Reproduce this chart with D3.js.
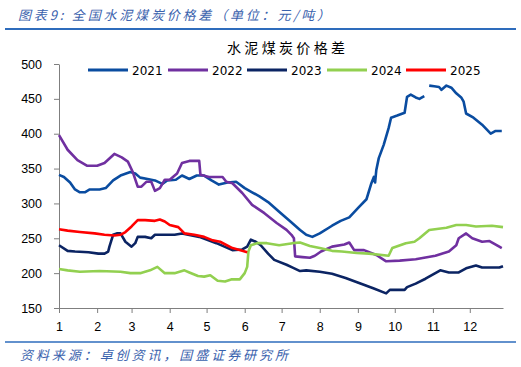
<!DOCTYPE html>
<html>

<head>
  <meta charset="utf-8">
  <title>全国水泥煤炭价格差</title>
  <script src="https://d3js.org/d3.v7.min.js"></script>
  <style>
    body { margin: 0; background: #fff; }
    svg { display: block; font-family: "DejaVu Sans", Verdana, sans-serif; }
    .axis path, .axis line { stroke: #7f7f7f; }
    .axis text { fill: #000; font-size: 12.5px; }
  </style>
</head>

<body>
  <svg id="chart" width="521" height="367"></svg>

  <script>
    // month starts as day of year, labelled 1..12
    const monthDays = [0, 31, 59, 90, 120, 151, 181, 212, 243, 273, 304, 334];
    const monthLabels = ["1", "2", "3", "4", "5", "6", "7", "8", "9", "10", "11", "12"];
    const yTicks = [150, 200, 250, 300, 350, 400, 450, 500];

    const seriesNames = ["2021", "2022", "2023", "2024", "2025"];
    const seriesColors = ["#0a4ca0", "#7030a0", "#0b2463", "#92d050", "#ff0000"];

    // [day of year, 元/吨]; null = gap in the line
    const data2021 = [[0, 341], [4, 338], [9, 330], [13, 320], [17, 316], [21, 316], [25, 320], [33, 320], [38, 322],
      [44, 333], [50, 340], [58, 345], [62, 343], [66, 337], [72, 335], [78, 333], [84, 328], [88, 333], [95, 334],
      [100, 340], [106, 335], [112, 340], [118, 340], [124, 333], [130, 327], [137, 330], [144, 331], [151, 322],
      [157, 316], [163, 310], [170, 302], [179, 288], [187, 276], [196, 262], [201, 255], [206, 252], [212, 257],
      [222, 268], [229, 275], [236, 280], [244, 295], [250, 306], [254, 329], [256, 338], [257, 330], [258, 348],
      [260, 365], [264, 384], [268, 408], [270, 423], [275, 426], [281, 430], [283, 453], [286, 456], [290, 452],
      [293, 450], [297, 454], [299, null], [301, 469], [305, 468], [309, 467], [311, 463], [315, 469], [319, 466],
      [323, 458], [327, 452], [329, 446], [331, 429], [337, 423], [344, 413], [351, 400], [355, 404], [360, 404]];

    const data2022 = [[0, 398], [7, 377], [15, 362], [23, 354], [31, 354], [37, 358], [45, 371], [51, 366], [56, 360],
      [60, 345], [64, 324], [67, 324], [71, 331], [75, 331], [78, 318], [82, 322], [86, 334], [90, 334], [96, 343],
      [100, 358], [106, 361], [114, 361], [115, 341], [122, 338], [128, 338], [133, 338], [136, 331], [141, 329],
      [149, 315], [157, 298], [167, 286], [177, 272], [185, 262], [189, 255], [191, 250], [192, 224], [198, 223],
      [204, 222], [208, 225], [213, 231], [222, 238], [232, 241], [236, 244], [240, 233], [248, 233], [258, 226],
      [266, 217], [277, 218], [290, 220], [306, 225], [317, 231], [323, 240], [325, 250], [331, 257], [336, 250],
      [344, 245], [350, 246], [358, 238], [360, 236]];

    const data2023 = [[0, 240], [7, 232], [13, 231], [24, 230], [32, 228], [37, 228], [40, 231], [41, 238], [44, 255],
      [47, 257], [50, 257], [54, 245], [59, 238], [62, 243], [64, 252], [70, 252], [75, 250], [78, 255], [86, 255],
      [94, 255], [100, 257], [114, 252], [128, 243], [141, 233], [149, 234], [153, 238], [156, 248], [160, 245],
      [164, 240], [170, 228], [175, 219], [185, 212], [190, 208], [196, 203], [201, 204], [212, 202], [222, 199],
      [233, 193], [244, 186], [256, 178], [266, 171], [269, 176], [281, 176], [283, 180], [290, 185], [298, 192],
      [306, 200], [310, 204], [317, 201], [325, 201], [331, 207], [339, 211], [344, 208], [358, 208], [361, 210]];

    const data2024 = [[0, 206], [7, 204], [17, 202], [33, 203], [50, 202], [58, 200], [66, 200], [74, 204], [80, 209],
      [86, 200], [94, 200], [102, 204], [106, 201], [113, 196], [118, 195], [123, 197], [129, 189], [135, 188],
      [140, 191], [147, 191], [151, 200], [153, 209], [154, 231], [156, 240], [161, 243], [169, 243], [179, 240],
      [190, 243], [196, 244], [204, 239], [212, 236], [222, 232], [230, 231], [242, 229], [252, 228], [268, 225],
      [271, 236], [282, 243], [289, 245], [293, 250], [301, 262], [315, 265], [323, 269], [331, 269], [339, 267],
      [352, 268], [361, 266]];

    const data2025 = [[0, 263], [7, 261], [17, 259], [29, 257], [37, 255], [45, 254], [50, 255], [54, 259], [59, 267],
      [64, 276], [70, 276], [78, 275], [82, 277], [86, 274], [90, 269], [97, 266], [102, 257], [110, 255], [118, 252],
      [125, 247], [131, 245], [141, 236], [149, 232], [153, 230]];

    const allSeries = [data2021, data2022, data2023, data2024, data2025];

    const svg = d3.select("svg#chart");
    const margins = { top: 64, left: 59, right: 17, bottom: 59 };
    const width = +svg.attr("width");
    const height = +svg.attr("height");

    const xScale = d3.scaleLinear()
      .domain([0, 361])
      .range([margins.left, width - margins.right - 1]);
    const yScale = d3.scaleLinear()
      .domain([150, 500])
      .range([height - margins.bottom, margins.top]);

    // header + rules
    svg.append("text")
      .attr("x", 18)
      .attr("y", 20)
      .attr("textLength", 312)
      .style("font-family", "'Noto Sans CJK SC', sans-serif")
      .style("font-style", "italic")
      .style("font-size", "13px")
      .style("fill", "#3a62ad")
      .text("图表9:  全国水泥煤炭价格差（单位：元/吨）");

    svg.append("line")
      .attr("x1", 5).attr("x2", 516)
      .attr("y1", 29).attr("y2", 29)
      .attr("stroke", "#2e6cbc")
      .attr("stroke-width", 2);

    svg.append("line")
      .attr("x1", 5).attr("x2", 516)
      .attr("y1", 342).attr("y2", 342)
      .attr("stroke", "#2e6cbc")
      .attr("stroke-width", 1.5);

    svg.append("text")
      .attr("x", 20)
      .attr("y", 360)
      .attr("textLength", 268)
      .style("font-family", "'Noto Sans CJK SC', sans-serif")
      .style("font-style", "italic")
      .style("font-size", "13px")
      .style("fill", "#3a62ad")
      .text("资料来源：卓创资讯，国盛证券研究所");

    // chart title
    svg.append("text")
      .attr("x", 286)
      .attr("y", 53)
      .attr("text-anchor", "middle")
      .attr("textLength", 118)
      .style("font-family", "'Noto Sans CJK SC', sans-serif")
      .style("font-size", "14px")
      .style("fill", "#000")
      .text("水泥煤炭价格差");

    // axes
    const leftAxis = d3.axisLeft(yScale)
      .tickValues(yTicks)
      .tickSize(5)
      .tickPadding(12)
      .tickSizeOuter(0);
    svg.append("g")
      .attr("class", "axis")
      .attr("transform", `translate(${margins.left},0)`)
      .call(leftAxis);

    const bottomAxis = d3.axisBottom(xScale)
      .tickValues(monthDays)
      .tickFormat((d, i) => monthLabels[i])
      .tickSize(5)
      .tickPadding(9)
      .tickSizeOuter(0);
    svg.append("g")
      .attr("class", "axis")
      .attr("transform", `translate(0,${height - margins.bottom})`)
      .call(bottomAxis);

    // lines
    const line = d3.line()
      .defined(d => d[1] != null)
      .x(d => xScale(d[0]))
      .y(d => yScale(d[1]));

    allSeries.forEach((series, i) => {
      svg.append("path")
        .attr("d", line(series))
        .attr("fill", "none")
        .attr("stroke", seriesColors[i])
        .attr("stroke-width", 2.6)
        .attr("stroke-linejoin", "round");
    });

    // legend
    const legendX = [88, 168, 247, 327, 406];
    const legend = svg.append("g");
    seriesNames.forEach((name, i) => {
      legend.append("line")
        .attr("x1", legendX[i]).attr("x2", legendX[i] + 40)
        .attr("y1", 70).attr("y2", 70)
        .attr("stroke", seriesColors[i])
        .attr("stroke-width", 3);
      legend.append("text")
        .attr("x", legendX[i] + 44)
        .attr("y", 74.5)
        .style("font-size", "12px")
        .style("fill", "#000")
        .text(name);
    });
  </script>
</body>

</html>
